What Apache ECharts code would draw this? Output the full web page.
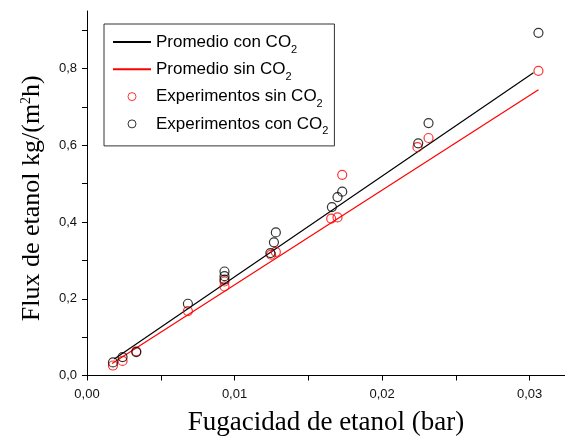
<!DOCTYPE html>
<html>
<head>
<meta charset="utf-8">
<script src="https://cdn.jsdelivr.net/npm/echarts@6/dist/echarts.min.js"></script>
<style>html,body{margin:0;padding:0;background:#fff}#c{width:565px;height:442px}</style>
</head>
<body>
<div id="c"></div>
<script>
// Experimentos con CO2 (black circles)
const fugConCO2 = [0.00176, 0.00241, 0.00334, 0.00684, 0.00932, 0.00932, 0.00932, 0.01243, 0.01267, 0.01280, 0.01660, 0.01698, 0.01730, 0.02245, 0.02315, 0.03060];
const fluxConCO2 = [0.034, 0.048, 0.061, 0.187, 0.271, 0.259, 0.250, 0.319, 0.347, 0.373, 0.439, 0.465, 0.479, 0.605, 0.658, 0.893];
// Experimentos sin CO2 (red circles)
const fugSinCO2 = [0.00176, 0.00241, 0.00334, 0.00684, 0.00932, 0.00932, 0.01248, 0.01280, 0.01655, 0.01698, 0.01730, 0.02240, 0.02315, 0.03060];
const fluxSinCO2 = [0.026, 0.038, 0.063, 0.168, 0.245, 0.232, 0.315, 0.322, 0.409, 0.412, 0.523, 0.595, 0.619, 0.794];
// Promedio lines (end points)
const promConX = [0.00185, 0.03026];
const promConY = [0.043, 0.789];
const promSinX = [0.00170, 0.03060];
const promSinY = [0.031, 0.745];
// Axis ticks
const xLabelValues = [0, 0.01, 0.02, 0.03];
const xTickValues = [0, 0.005, 0.01, 0.015, 0.02, 0.025, 0.03];
const yLabelValues = [0, 0.2, 0.4, 0.6, 0.8];
const yTickValues = [0, 0.1, 0.2, 0.3, 0.4, 0.5, 0.6, 0.7, 0.8, 0.9];

const names = ['Promedio con CO2', 'Promedio sin CO2', 'Experimentos sin CO2', 'Experimentos con CO2'];
const legendText = {
  'Promedio con CO2': 'Promedio con CO{sub|2}',
  'Promedio sin CO2': 'Promedio sin CO{sub|2}',
  'Experimentos sin CO2': 'Experimentos sin CO{sub|2}',
  'Experimentos con CO2': 'Experimentos con CO{sub|2}'
};

const zip = (a, b) => a.map((v, i) => [v, b[i]]);
const SANS = '"Liberation Sans", Arial, sans-serif';
const SERIF = '"Liberation Serif", "Times New Roman", serif';

const chart = echarts.init(document.getElementById('c'), null, {renderer: 'canvas'});
chart.setOption({
  animation: false,
  backgroundColor: '#fff',
  grid: {left: 87, right: 0, top: 11, bottom: 66.5, containLabel: false},
  xAxis: {
    type: 'value', min: 0, max: 0.0324,
    splitLine: {show: false},
    axisLine: {lineStyle: {color: '#000', width: 1}},
    axisTick: {show: true, length: 5, inside: false, customValues: xTickValues, lineStyle: {color: '#000'}},
    axisLabel: {customValues: xLabelValues, margin: 12, color: '#111', fontSize: 13, fontFamily: SANS,
      formatter: v => v.toFixed(2).replace('.', ',')},
    name: 'Fugacidad de etanol (bar)', nameLocation: 'middle', nameGap: 34,
    nameTextStyle: {fontFamily: SERIF, fontSize: 27, color: '#000'}
  },
  yAxis: {
    type: 'value', min: 0, max: 0.95,
    splitLine: {show: false},
    axisLine: {lineStyle: {color: '#000', width: 1}},
    axisTick: {show: true, length: 5, inside: false, customValues: yTickValues, lineStyle: {color: '#000'}},
    axisLabel: {customValues: yLabelValues, margin: 10, color: '#111', fontSize: 13, fontFamily: SANS,
      formatter: v => v.toFixed(1).replace('.', ',')},
    name: 'Flux de etanol kg/(m{sup|2}h)', nameLocation: 'middle', nameGap: 42,
    nameTextStyle: {fontFamily: SERIF, fontSize: 26, color: '#000', padding: [0, 10, 0, 0],
      rich: {sup: {fontFamily: SERIF, fontSize: 14, verticalAlign: 'top', color: '#000'}}}
  },
  legend: {
    orient: 'vertical', left: 104, top: 24,
    padding: [8, 6, 9, 8],
    itemWidth: 38, itemHeight: 8, itemGap: 4.3,
    backgroundColor: '#fff', borderColor: '#333', borderWidth: 1,
    data: [
      {name: names[0], itemStyle: {opacity: 0}},
      {name: names[1], itemStyle: {opacity: 0}},
      {name: names[2]},
      {name: names[3]}
    ],
    itemStyle: {borderWidth: 1},
    formatter: n => legendText[n],
    textStyle: {fontFamily: SANS, fontSize: 17, color: '#000', lineHeight: 20, width: 172, overflow: 'none',
      rich: {sub: {fontFamily: SANS, fontSize: 11, lineHeight: 11, verticalAlign: 'bottom', color: '#000', padding: [0, 0, -3, 0]}}}
  },
  series: [
    {name: names[0], type: 'line', data: zip(promConX, promConY), showSymbol: false, symbol: 'none',
      color: '#000', lineStyle: {color: '#000', width: 1.2}, z: 2},
    {name: names[1], type: 'line', data: zip(promSinX, promSinY), showSymbol: false, symbol: 'none',
      color: '#ff0000', lineStyle: {color: '#ff0000', width: 1.2}, z: 2},
    {name: names[2], type: 'scatter', data: zip(fugSinCO2, fluxSinCO2), symbol: 'circle', symbolSize: 9,
      itemStyle: {color: 'rgba(0,0,0,0)', borderColor: '#ff0000', borderWidth: 1.2}, z: 3},
    {name: names[3], type: 'scatter', data: zip(fugConCO2, fluxConCO2), symbol: 'circle', symbolSize: 9,
      itemStyle: {color: 'rgba(0,0,0,0)', borderColor: '#000', borderWidth: 1.2}, z: 4}
  ]
});
</script>
</body>
</html>
